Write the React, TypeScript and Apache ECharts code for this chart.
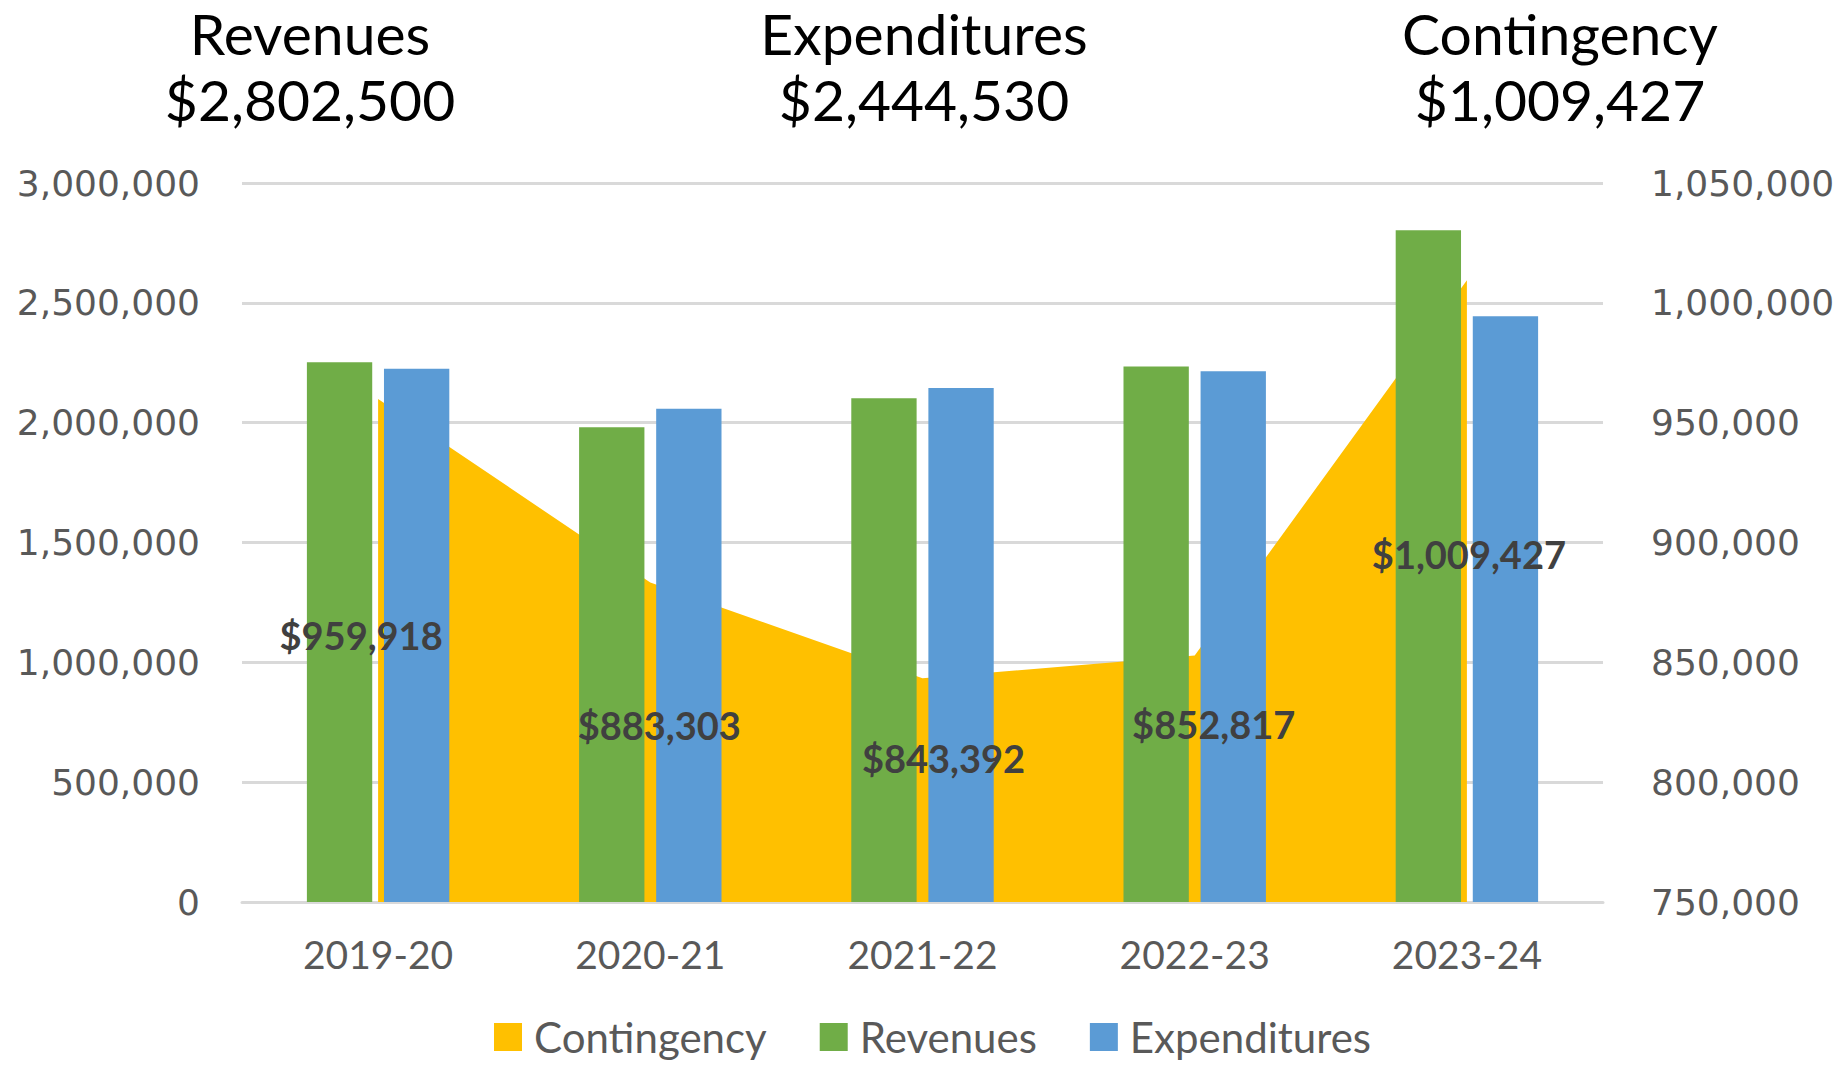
import React, { useEffect, useRef } from "react";
import * as echarts from "echarts";

const categories = ["2019-20", "2020-21", "2021-22", "2022-23", "2023-24"];
const revenues = [2252000, 1981000, 2102000, 2234000, 2802500];
const expenditures = [2225000, 2058000, 2145000, 2215000, 2444530];
const contingency = [959918, 883303, 843392, 852817, 1009427];

const leftMin = 0;
const leftMax = 3000000;
const leftInterval = 500000;
const rightMin = 750000;
const rightMax = 1050000;
const rightInterval = 50000;

// pixel offsets of the data labels of the area (styling only)
const labelOffsets = [
  [-17, 236],
  [9, 142],
  [21, 80],
  [19, 68],
  [2, 274],
];

const fmt = (v: number) => v.toLocaleString("en-US");
const money = (v: number) => "$" + fmt(v);

export default function App() {
  const ref = useRef<HTMLDivElement>(null);
  useEffect(() => {
    if (!ref.current) return;
    const chart = echarts.init(ref.current, undefined, { renderer: "svg" });
    const last = categories.length - 1;
    const titleStyle = {
      fontFamily: "Lato",
      fontSize: 57,
      fontWeight: "normal" as const,
      color: "#000000",
      lineHeight: 66,
    };
    chart.setOption({
      animation: false,
      backgroundColor: "#ffffff",
      title: [
        { text: "Revenues\n" + money(revenues[last]), left: 310, top: 0, padding: 0, textAlign: "center", textStyle: titleStyle },
        { text: "Expenditures\n" + money(expenditures[last]), left: 924, top: 0, padding: 0, textAlign: "center", textStyle: titleStyle },
        { text: "Contingency\n" + money(contingency[last]), left: 1560, top: 0, padding: 0, textAlign: "center", textStyle: titleStyle },
      ],
      legend: {
        data: ["Contingency", "Revenues", "Expenditures"],
        left: 494,
        top: 1016,
        padding: 0,
        itemWidth: 28,
        itemHeight: 28,
        itemGap: 53,
        icon: "rect",
        textStyle: { fontFamily: "Lato", fontSize: 42, lineHeight: 42, color: "#595959", padding: [0, 0, 0, 7] },
      },
      grid: { left: 242, right: 242, top: 183, bottom: 163, containLabel: false },
      xAxis: {
        type: "category",
        data: categories,
        axisLine: { lineStyle: { color: "#d9d9d9", width: 3 } },
        axisTick: { show: false },
        axisLabel: { fontFamily: "Lato", fontSize: 39, color: "#595959", margin: 32 },
      },
      yAxis: [
        {
          type: "value",
          min: leftMin,
          max: leftMax,
          interval: leftInterval,
          axisLine: { show: false },
          axisTick: { show: false },
          splitLine: { lineStyle: { color: "#d9d9d9", width: 3 } },
          axisLabel: { fontFamily: "DejaVu Sans", fontSize: 36, color: "#595959", margin: 42, formatter: (v: number) => fmt(v) },
        },
        {
          type: "value",
          min: rightMin,
          max: rightMax,
          interval: rightInterval,
          axisLine: { show: false },
          axisTick: { show: false },
          splitLine: { show: false },
          axisLabel: { fontFamily: "DejaVu Sans", fontSize: 36, color: "#595959", margin: 48, formatter: (v: number) => fmt(v) },
        },
      ],
      series: [
        {
          name: "Contingency",
          type: "line",
          yAxisIndex: 1,
          data: contingency,
          symbol: "none",
          showSymbol: false,
          itemStyle: { color: "#ffc000" },
          lineStyle: { width: 0, color: "#ffc000" },
          areaStyle: { color: "#ffc000", opacity: 1 },
          z: 1,
        },
        {
          name: "Revenues",
          type: "bar",
          yAxisIndex: 0,
          data: revenues,
          barWidth: "24%",
          barGap: "18%",
          itemStyle: { color: "#70ad47" },
          z: 2,
        },
        {
          name: "Expenditures",
          type: "bar",
          yAxisIndex: 0,
          data: expenditures,
          barWidth: "24%",
          barGap: "18%",
          itemStyle: { color: "#5b9bd5" },
          z: 2,
        },
        {
          name: "Contingency labels",
          type: "line",
          yAxisIndex: 1,
          data: contingency.map((v, i) => ({
            value: v,
            label: { offset: labelOffsets[i] },
          })),
          symbol: "circle",
          symbolSize: 1,
          showSymbol: true,
          itemStyle: { color: "transparent" },
          lineStyle: { width: 0, color: "transparent" },
          label: {
            show: true,
            position: "inside",
            formatter: (p: any) => money(p.value),
            fontFamily: "Lato",
            fontWeight: "bold",
            fontSize: 38,
            color: "#404040",
          },
          silent: true,
          z: 5,
        },
      ],
    });
    return () => chart.dispose();
  }, []);
  return (
    <div
      ref={ref}
      style={{ position: "fixed", left: 0, top: 0, width: 1845, height: 1065 }}
    />
  );
}
